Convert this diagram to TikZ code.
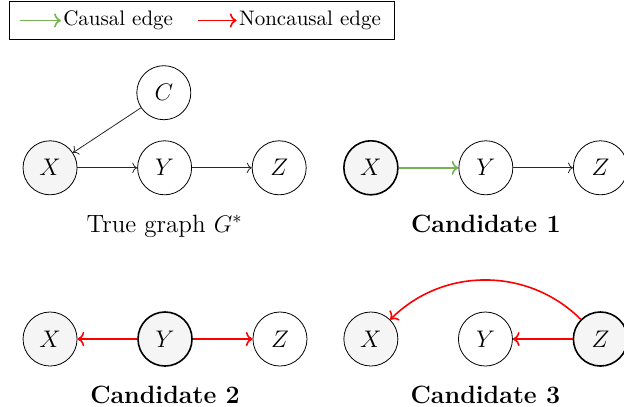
\documentclass[tikz,border=0pt]{standalone}
\usepackage{tikz}
\usetikzlibrary{arrows.meta,fit,positioning}
\definecolor{causalgreen}{RGB}{118,178,84}

\begin{document}
\begin{tikzpicture}[
    var/.style={circle, draw, minimum size=0.95cm, inner sep=0pt, font=\large},
    obs/.style={var, fill=gray!8},
    intv/.style={thick},
    edge/.style={->, black!85},
    causal/.style={->, thick, causalgreen},
    noncausal/.style={->, thick, red},
    legtext/.style={inner sep=1pt, font=\fontsize{10.5}{12.6}\selectfont},
    caption/.style={font=\fontsize{12.5}{15}\selectfont},
    node distance=1.05cm
]
\useasboundingbox (0,0) rectangle (10.97,-7.14);

% legend
\coordinate (lg1) at (0.35,-0.36);
\node[legtext, right=0.72cm of lg1] (lgcausal) {Causal edge};
\coordinate (lg2) at (3.48,-0.36);
\node[legtext, right=0.68cm of lg2] (lgnon) {Noncausal edge};
\draw[causal] (lg1) -- (lgcausal.west);
\draw[noncausal] (lg2) -- (lgnon.west);
\node[draw, fit=(lg1)(lgcausal)(lgnon), inner xsep=0.19cm, inner ysep=0.12cm] (legend) {};

% true graph
\node[obs] (tx) at (0.88,-2.95) {$X$};
\node[var, right=of tx] (ty) {$Y$};
\node[var, right=of ty] (tz) {$Z$};
\node[var] (tc) at (2.88,-1.63) {$C$};
\draw[edge] (tc) -- (tx);
\draw[edge] (tx) -- (ty);
\draw[edge] (ty) -- (tz);
\node[caption, below=0.22cm of ty] (tcap) {True graph $G^{*}$};

% candidate 1
\node[obs, intv] (ax) at (6.52,-2.95) {$X$};
\node[var, right=of ax] (ay) {$Y$};
\node[var, right=of ay] (az) {$Z$};
\draw[causal] (ax) -- (ay);
\draw[edge] (ay) -- (az);
\node[caption, below=0.22cm of ay] (acap) {\textbf{Candidate 1}};

% candidate 2
\node[obs] (bx) at (0.88,-5.96) {$X$};
\node[obs, intv, right=of bx] (by) {$Y$};
\node[var, right=of by] (bz) {$Z$};
\draw[noncausal] (by) -- (bx);
\draw[noncausal] (by) -- (bz);
\node[caption, below=0.22cm of by] (bcap) {\textbf{Candidate 2}};

% candidate 3
\node[obs] (cx) at (6.52,-5.96) {$X$};
\node[var, right=of cx] (cy) {$Y$};
\node[obs, intv, right=of cy] (cz) {$Z$};
\draw[noncausal] (cz) -- (cy);
\draw[noncausal] (cz) to[bend right=45] (cx);
\node[caption, below=0.22cm of cy] (ccap) {\textbf{Candidate 3}};
\end{tikzpicture}
\end{document}
